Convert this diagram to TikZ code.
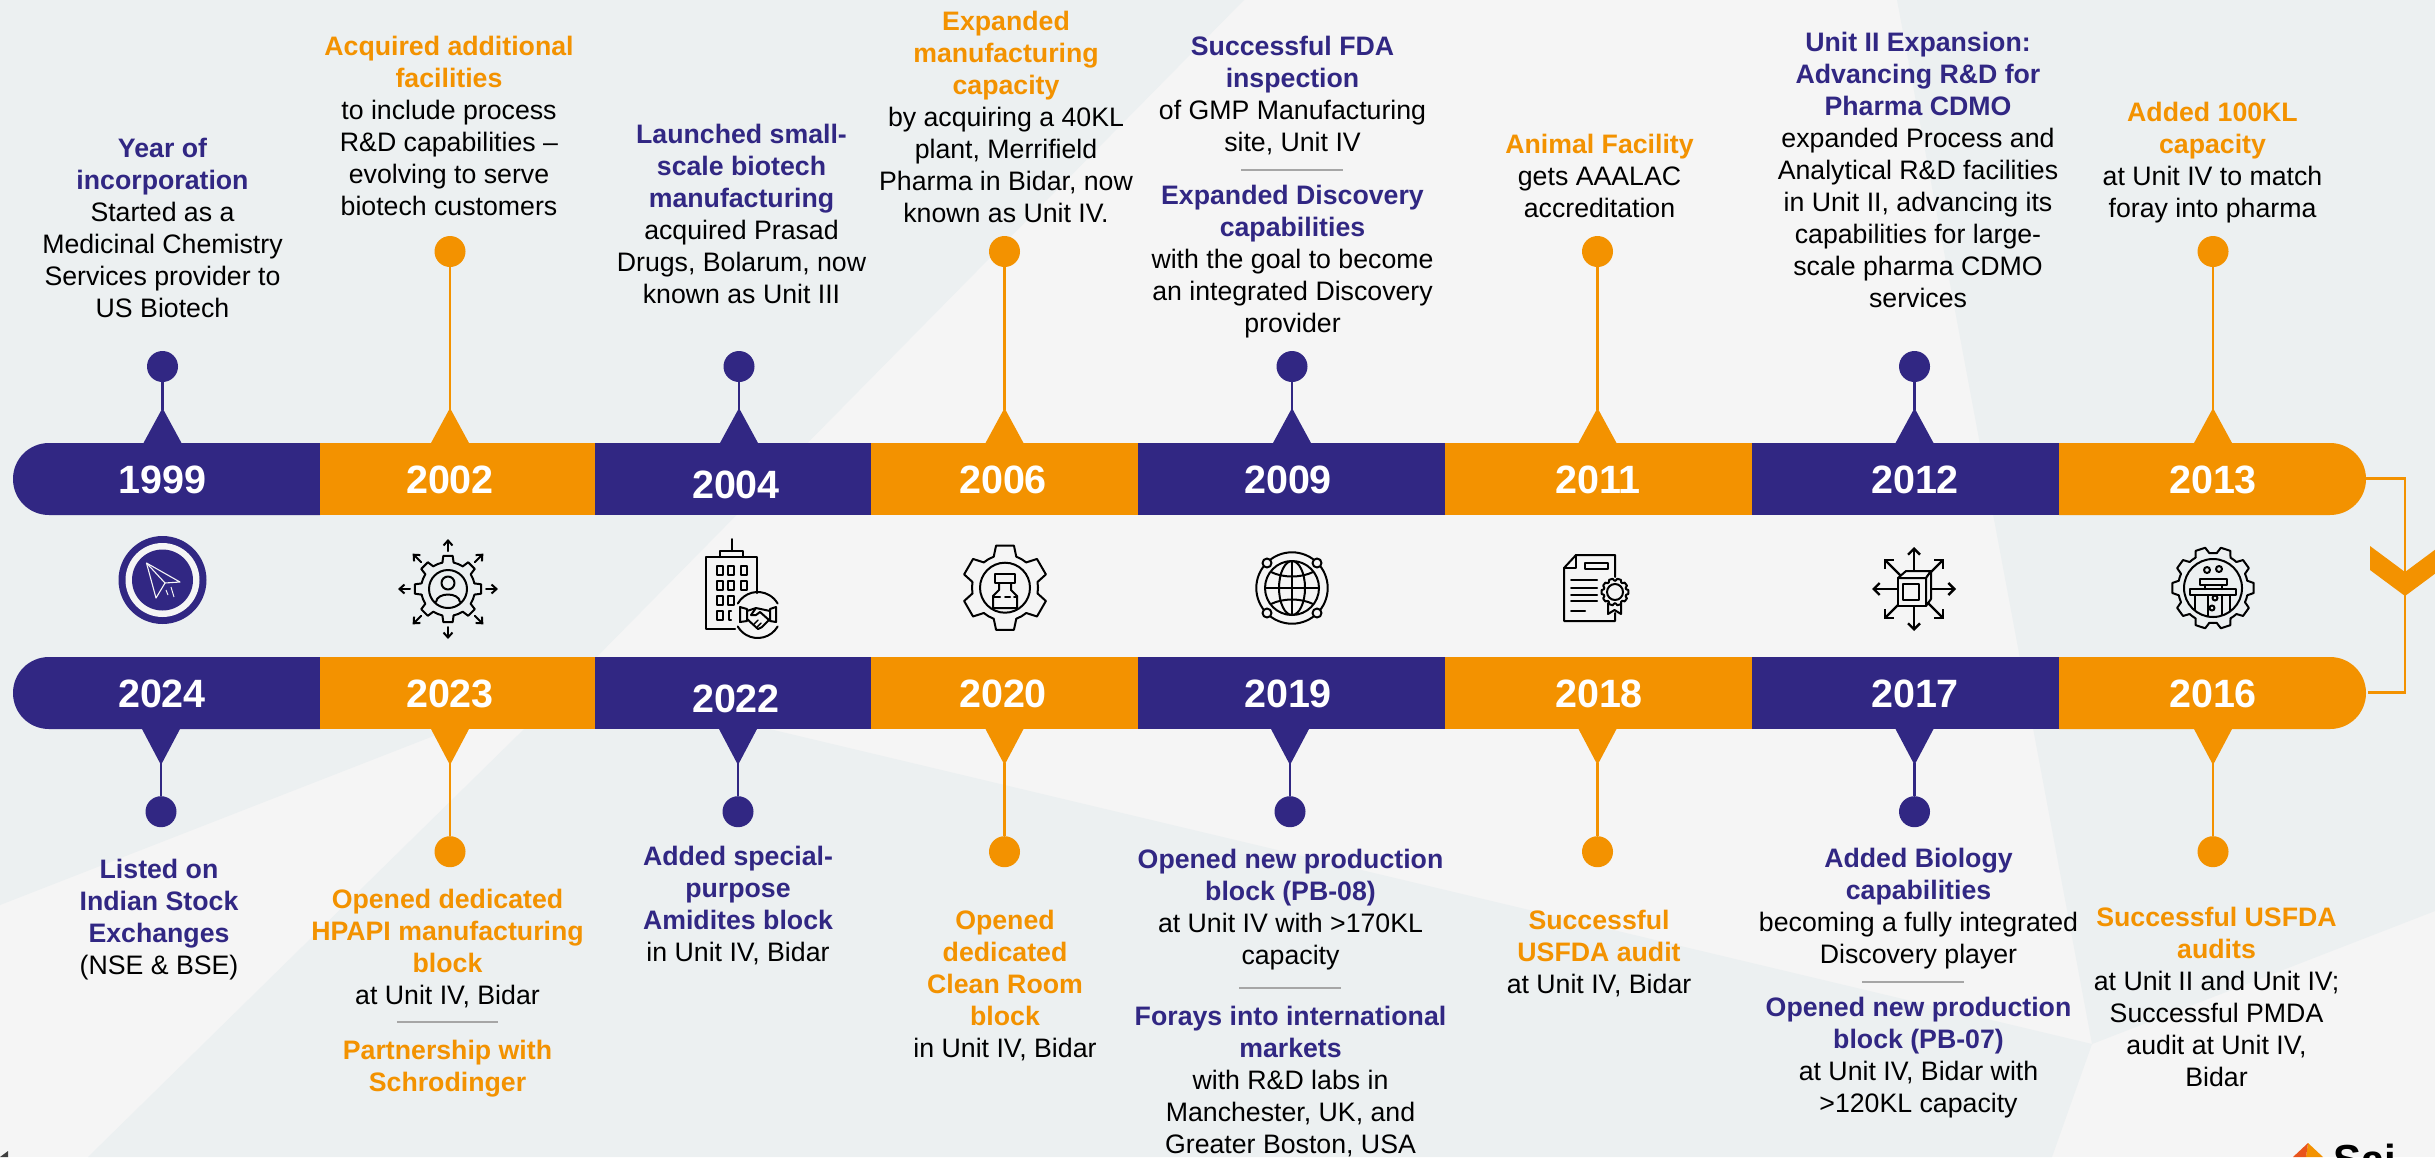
\documentclass[tikz,border=0pt]{standalone}
\usepackage{fontspec}
\setmainfont{Liberation Sans}
\usetikzlibrary{arrows.meta}
\definecolor{navy}{HTML}{312783}
\definecolor{orng}{HTML}{F39200}
\definecolor{bgl}{HTML}{F5F5F5}
\definecolor{bgd}{HTML}{ECF0F1}
\definecolor{sepg}{HTML}{A6A6A6}
\definecolor{logored}{HTML}{E9541C}
\tikzset{
  blk/.style={anchor=north,align=center,inner sep=0pt,outer sep=0pt,text=black,font=\fontsize{26.7}{32}\selectfont},
  yr/.style={anchor=base,inner sep=0pt,text=white,font=\fontsize{39.5}{44}\selectfont\bfseries},
  dotn/.style={circle,minimum size=31pt,inner sep=0pt,outer sep=0pt},
  stemline/.style={line width=2.6pt},
  conn/.style={draw=orng,line width=2.4pt},
  sepline/.style={draw=sepg,line width=1.5pt},
  ico/.style={draw=black,line width=2pt,line cap=round,line join=round},
  icoa/.style={ico,-{Straight Barb[length=5pt,width=9pt]}},
}
\newcommand\hb[1]{{\color{navy}\bfseries #1}}
\newcommand\ho[1]{{\color{orng}\bfseries #1}}
\newcommand\blk[4]{\node[blk] (#1) at (#2,{#3-24}) {\rule{0pt}{24pt}#4};}
% up connector: key, x, dot y, colour
\newcommand\upc[4]{%
  \fill[#4] (#2-19,443) -- (#2,408) -- (#2+19,443) -- cycle;
  \coordinate (t#1) at (#2,410);
  \node[dotn,fill=#4] (d#1) at (#2,#3) {};
  \draw[stemline,#4] (d#1) -- (t#1);}
\newcommand\dnc[4]{%
  \fill[#4] (#2-19,729) -- (#2,765) -- (#2+19,729) -- cycle;
  \coordinate (t#1) at (#2,763);
  \node[dotn,fill=#4] (d#1) at (#2,#3) {};
  \draw[stemline,#4] (d#1) -- (t#1);}
% gear: x y Rout Rin teeth w-outer w-inner phase
\newcommand\gearicon[8]{%
  \begin{scope}[shift={(#1,#2)}]
  \foreach \k in {1,...,#5}{%
    \pgfmathsetmacro\ga{\k*360/#5+#8}
    \pgfmathsetmacro\gb{\ga+360/#5-#7}
    \draw[ico] ({\ga-#7}:#4) -- ({\ga-#6}:#3) -- ({\ga+#6}:#3) -- ({\ga+#7}:#4) arc[start angle=\ga+#7,end angle=\gb,radius=#4];
  }
  \end{scope}}
\begin{document}
\begin{tikzpicture}[x=1pt,y=1pt,yscale=-1]
\useasboundingbox (0,0) rectangle (2435,1157);
\clip (0,0) rectangle (2435,1157);
% background
\fill[bgl] (0,0) rectangle (2435,1157);
\fill[bgd] (0,0) -- (1244,0) -- (572,682) -- (0,905) -- cycle;
\fill[bgd] (572,682) -- (2092,1044) -- (2052,1157) -- (88,1157) -- cycle;
\fill[bgd] (1897,0) -- (2435,0) -- (2435,911) -- (2092,1044) -- cycle;
% corner marks
\fill[black!75] (0,1157) -- (8,1151) -- (8,1157) -- cycle;
\fill[orng] (2308,1143) -- (2323,1157) -- (2306,1157) -- cycle;
\fill[logored] (2308,1143) -- (2293,1157) -- (2306,1157) -- cycle;
\node[anchor=base west,inner sep=0pt,text=black,font=\fontsize{42}{46}\selectfont\bfseries] (logo) at (2333,1174) {Sai};
% right connector
\coordinate (ra) at (2366,478.5);
\coordinate (rb) at (2368,692.5);
\draw[conn] (ra) -- (2405,478.5) -- (2405,692.5) -- (rb);
\fill[orng] (2370,546) -- (2405,572) -- (2440,546) -- (2440,570) -- (2405,596) -- (2370,570) -- cycle;
% connectors
\upc{a1}{162.5}{366.5}{navy}
\upc{a2}{450}{251.5}{orng}
\upc{a3}{739}{366.5}{navy}
\upc{a4}{1004.5}{251.5}{orng}
\upc{a5}{1292}{366.5}{navy}
\upc{a6}{1597.5}{251.5}{orng}
\upc{a7}{1914.5}{366.5}{navy}
\upc{a8}{2213}{251.5}{orng}
\dnc{b1}{161}{811.7}{navy}
\dnc{b2}{450}{851.7}{orng}
\dnc{b3}{738}{811.7}{navy}
\dnc{b4}{1004.5}{851.7}{orng}
\dnc{b5}{1290}{811.7}{navy}
\dnc{b6}{1597.5}{851.7}{orng}
\dnc{b7}{1914.5}{811.7}{navy}
\dnc{b8}{2213}{851.7}{orng}
% bars
\foreach \ya/\yb in {443/515,657/729}{
  \pgfmathsetmacro\ym{(\ya+\yb)/2}
  \fill[navy] (320,\ya) -- (49,\ya) .. controls (29,\ya) and (13,\ya+16) .. (13,\ym) .. controls (13,\yb-16) and (29,\yb) .. (49,\yb) -- (320,\yb) -- cycle;
  \fill[orng] (320,\ya) rectangle (595,\yb);
  \fill[navy] (595,\ya) rectangle (871,\yb);
  \fill[orng] (871,\ya) rectangle (1137.5,\yb);
  \fill[navy] (1137.5,\ya) rectangle (1445,\yb);
  \fill[orng] (1445,\ya) rectangle (1752,\yb);
  \fill[navy] (1752,\ya) rectangle (2059,\yb);
  \fill[orng] (2059,\ya) -- (2330,\ya) .. controls (2350,\ya) and (2366,\ya+16) .. (2366,\ym) .. controls (2366,\yb-16) and (2350,\yb) .. (2330,\yb) -- (2059,\yb) -- cycle;
}
% year labels
\node[yr] (y1999) at (162.5,493) {1999};
\node[yr] (y2002) at (450,493) {2002};
\node[yr] (y2004) at (736,498) {2004};
\node[yr] (y2006) at (1003,493) {2006};
\node[yr] (y2009) at (1288,493) {2009};
\node[yr] (y2011) at (1598,493) {2011};
\node[yr] (y2012) at (1915,493) {2012};
\node[yr] (y2013) at (2213,493) {2013};
\node[yr] (y2024) at (162,707) {2024};
\node[yr] (y2023) at (450,707) {2023};
\node[yr] (y2022) at (736,712) {2022};
\node[yr] (y2020) at (1003,707) {2020};
\node[yr] (y2019) at (1288,707) {2019};
\node[yr] (y2018) at (1599,707) {2018};
\node[yr] (y2017) at (1915,707) {2017};
\node[yr] (y2016) at (2213,707) {2016};
% icon 1999: plane
\fill[navy] (162.5,580) circle[radius=44];
\fill[bgl] (162.5,580) circle[radius=37];
\fill[navy] (162.5,580) circle[radius=30.5];
\draw[draw=bgl,line width=1.1pt,line join=round] (146.5,563) -- (180,582) -- (165,583) -- (156,598) -- cycle;
\draw[draw=bgl,line width=1.1pt] (146.5,563) -- (165,583);
\draw[draw=bgl,line width=1pt] (166,590) -- (168,595) (171,587) -- (174,597);
% icon 2002: gear person arrows
\gearicon{448}{589}{33.5}{27}{8}{8}{12}{0}
\draw[ico] (448,589) circle[radius=19];
\draw[ico] (448,583) circle[radius=6.5];
\draw[ico] (436,602) .. controls (437,592) and (459,592) .. (460,602);
\foreach \ang in {0,45,...,315}{
  \draw[icoa] (448,589) ++(\ang:38) -- ++(\ang:12);
}
% icon 2004: building
\draw[ico] (735,629) -- (706,629) -- (706,557) -- (757,557) -- (757,593);
\draw[ico] (720,557) -- (720,551) -- (743,551) -- (743,557);
\draw[ico] (732,551) -- (732,539);
\foreach \wx/\wy in {717/566,728/566,741/566,717/581,728/581,741/581,717/596,728/596,717/611}{
  \draw[ico,line width=2.2pt] (\wx,\wy) rectangle ++(6,9);
}
\draw[ico,line width=2.2pt] (731,611) -- (729,611) -- (729,620) -- (731,620);
\draw[ico] (757.7,615) ++(-150:23) arc[start angle=-150,end angle=-30,radius=23];
\draw[ico] (757.7,615) ++(30:23) arc[start angle=30,end angle=150,radius=23];
\draw[ico] (740,607) -- (747,609) -- (747,621) -- (740,622) -- cycle;
\draw[ico] (776,607) -- (770,609) -- (770,621) -- (776,622) -- cycle;
\draw[ico] (747,611) -- (756,608) -- (770,611);
\draw[ico] (747,619) -- (758,629) -- (762,627) -- (770,619);
\draw[ico] (756,608) -- (751,615) -- (756,615) -- (760,612) -- (769,620);
\draw[ico,line width=1.4pt] (754,624) -- (758,620) (757,627) -- (761,623);
% icon 2006: gear vial
\gearicon{1005}{587.7}{43}{33}{6}{12}{20}{30}
\draw[ico] (1005,587.7) circle[radius=25];
\draw[ico] (995,574) rectangle (1015,583);
\draw[ico] (999,583) -- (999,590) -- (993,596) -- (993,608) -- (1017,608) -- (1017,596) -- (1011,590) -- (1011,583);
\draw[ico] (993,597) -- (1000,597) (1005,597) -- (1010,597) (1014,597) -- (1017,597);
% icon 2009: globe
\draw[ico] (1292,588) circle[radius=35.7];
\draw[ico] (1292,588) circle[radius=27];
\draw[ico] (1292,588) ellipse[x radius=13,y radius=27];
\draw[ico] (1292,561) -- (1292,615) (1265,588) -- (1319,588);
\draw[ico] (1271,572) .. controls (1283,578) and (1301,578) .. (1313,572);
\draw[ico] (1271,604) .. controls (1283,598) and (1301,598) .. (1313,604);
\foreach \sx/\sy in {-25/-25,25/-25,-25/25,25/25}{
  \filldraw[ico,fill=bgl] (1292+\sx,588+\sy) circle[radius=4.5];
}
% icon 2011: certificate
\draw[ico] (1615,577) -- (1615,555) -- (1576,555) -- (1564,568) -- (1564,621) -- (1615,621) -- (1615,613);
\draw[ico] (1576,555) -- (1576,568) -- (1564,568);
\draw[ico] (1585,563) rectangle (1608,569);
\foreach \ly in {580,588,595,601}{\draw[ico] (1571,\ly) -- (1597,\ly);}
\draw[ico] (1571,611) -- (1585,611);
\gearicon{1615}{592}{13.5}{11.5}{10}{8}{14}{0}
\draw[ico] (1615,592) circle[radius=8];
\draw[ico] (1608,603) -- (1608,614) -- (1614.5,610) -- (1621,614) -- (1621,603);
% icon 2012: cube arrows
\foreach \ax/\ay in {42/0,-42/0,0/42,0/-42,30/30,-30/30,30/-30,-30/-30}{
  \draw[icoa,line width=2.4pt,-{Straight Barb[length=6pt,width=12pt]}] (1914,589) ++({0.4*\ax},{0.4*\ay}) -- (1914+\ax,589+\ay);
}
\filldraw[ico,fill=bgl] (1898,578) rectangle (1926,606);
\filldraw[ico,fill=bgl] (1898,578) -- (1906,571) -- (1931,571) -- (1926,578) -- cycle;
\filldraw[ico,fill=bgl] (1926,578) -- (1931,571) -- (1931,599) -- (1926,606) -- cycle;
\draw[ico] (1903,584) rectangle (1919,600);
% icon 2013: gear flasks
\gearicon{2213}{588}{41}{35}{10}{7}{12}{0}
\draw[ico] (2213,588) circle[radius=29];
\draw[ico] (2207,570) circle[radius=3];
\draw[ico] (2219,569) circle[radius=3];
\draw[ico] (2200,579) rectangle (2227,585);
\draw[ico] (2190,589) rectangle (2236,595);
\draw[ico] (2195,595) -- (2195,610) (2208,595) -- (2208,616) (2222,595) -- (2222,615) (2230,595) -- (2230,611) (2205,585) -- (2205,589) (2222,585) -- (2222,589);
\draw[ico] (2215,598) circle[radius=2.5];
\draw[ico] (2212,608) circle[radius=2.5];
% texts top
\blk{t1999}{162.5}{157}{\hb{Year of}\\\hb{incorporation}\\Started as a\\Medicinal Chemistry\\Services provider to\\US Biotech}
\blk{t2002}{449}{55}{\ho{Acquired additional}\\\ho{facilities}\\to include process\\R\&D capabilities --\\evolving to serve\\biotech customers}
\blk{t2004}{741.5}{143}{\hb{Launched small-}\\\hb{scale biotech}\\\hb{manufacturing}\\acquired Prasad\\Drugs, Bolarum, now\\known as Unit III}
\blk{t2006}{1006}{30}{\ho{Expanded}\\\ho{manufacturing}\\\ho{capacity}\\by acquiring a 40KL\\plant, Merrifield\\Pharma in Bidar, now\\known as Unit IV.}
\blk{t2009a}{1292.5}{55}{\hb{Successful FDA}\\\hb{inspection}\\of GMP Manufacturing\\site, Unit IV}
\coordinate (s1a) at (1241,170); \coordinate (s1b) at (1343,170);
\draw[sepline] (s1a) -- (s1b);
\blk{t2009b}{1292.5}{204.5}{\hb{Expanded Discovery}\\\hb{capabilities}\\with the goal to become\\an integrated Discovery\\provider}
\blk{t2011}{1599.5}{153.5}{\ho{Animal Facility}\\gets AAALAC\\accreditation}
\blk{t2012}{1918}{51}{\hb{Unit II Expansion:}\\\hb{Advancing R\&D for}\\\hb{Pharma CDMO}\\expanded Process and\\Analytical R\&D facilities\\in Unit II, advancing its\\capabilities for large-\\scale pharma CDMO\\services}
\blk{t2013}{2212.5}{121}{\ho{Added 100KL}\\\ho{capacity}\\at Unit IV to match\\foray into pharma}
% texts bottom
\blk{t2024}{159}{878}{\hb{Listed on}\\\hb{Indian Stock}\\\hb{Exchanges}\\(NSE \& BSE)}
\blk{t2023a}{447.5}{908}{\ho{Opened dedicated}\\\ho{HPAPI manufacturing}\\\ho{block}\\at Unit IV, Bidar}
\coordinate (s2a) at (397,1022); \coordinate (s2b) at (498,1022);
\draw[sepline] (s2a) -- (s2b);
\blk{t2023b}{447.5}{1059}{\ho{Partnership with}\\\ho{Schrodinger}}
\blk{t2022}{738}{865}{\hb{Added special-}\\\hb{purpose}\\\hb{Amidites block}\\in Unit IV, Bidar}
\blk{t2020}{1005}{929}{\ho{Opened}\\\ho{dedicated}\\\ho{Clean Room}\\\ho{block}\\in Unit IV, Bidar}
\blk{t2019a}{1290.5}{868}{\hb{Opened new production}\\\hb{block (PB-08)}\\at Unit IV with >170KL\\capacity}
\coordinate (s3a) at (1239,988); \coordinate (s3b) at (1341,988);
\draw[sepline] (s3a) -- (s3b);
\blk{t2019b}{1290.5}{1025}{\hb{Forays into international}\\\hb{markets}\\with R\&D labs in\\Manchester, UK, and\\Greater Boston, USA}
\blk{t2018}{1599}{929}{\ho{Successful}\\\ho{USFDA audit}\\at Unit IV, Bidar}
\blk{t2017a}{1918.5}{867}{\hb{Added Biology}\\\hb{capabilities}\\becoming a fully integrated\\Discovery player}
\coordinate (s4a) at (1862,982); \coordinate (s4b) at (1964,982);
\draw[sepline] (s4a) -- (s4b);
\blk{t2017b}{1918.5}{1016}{\hb{Opened new production}\\\hb{block (PB-07)}\\at Unit IV, Bidar with\\>120KL capacity}
\blk{t2016}{2216.5}{926}{\ho{Successful USFDA}\\\ho{audits}\\at Unit II and Unit IV;\\Successful PMDA\\audit at Unit IV,\\Bidar}
\end{tikzpicture}
\end{document}
